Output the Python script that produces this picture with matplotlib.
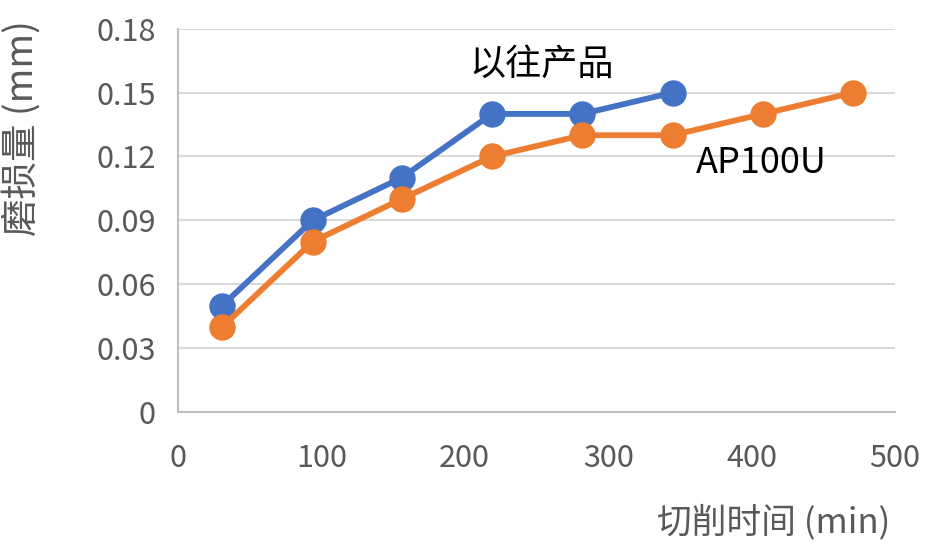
import matplotlib
matplotlib.use("Agg")
import matplotlib.pyplot as plt

plt.rcParams['font.family'] = ['Noto Sans CJK SC', 'DejaVu Sans']

time_prev = [31, 94, 156, 219, 282, 345]
wear_prev = [0.05, 0.09, 0.11, 0.14, 0.14, 0.15]
time_new = [31, 94, 156, 219, 282, 345, 408, 471]
wear_new = [0.04, 0.08, 0.10, 0.12, 0.13, 0.13, 0.14, 0.15]
xticks = [0, 100, 200, 300, 400, 500]
yticks = [0, 0.03, 0.06, 0.09, 0.12, 0.15, 0.18]
ytick_labels = ['0', '0.03', '0.06', '0.09', '0.12', '0.15', '0.18']

fig = plt.figure(figsize=(9.46, 5.53), dpi=100)
ax = fig.add_axes([0.188, 0.255, 0.758, 0.693])

ax.plot(time_prev, wear_prev, color='#4472C4', lw=4.2, marker='o', ms=18, zorder=3)
ax.plot(time_new, wear_new, color='#ED7D31', lw=4.2, marker='o', ms=18, zorder=4)

ax.set_xlim(0, 500)
ax.set_ylim(0, 0.18)
ax.set_xticks(xticks)
ax.set_yticks(yticks)
ax.set_yticklabels(ytick_labels)
ax.yaxis.grid(True, color='#D9D9D9', lw=1.5)
ax.set_axisbelow(True)
for s in ['top', 'right']:
    ax.spines[s].set_visible(False)
for s in ['left', 'bottom']:
    ax.spines[s].set_color('#BFBFBF')
    ax.spines[s].set_linewidth(1.5)
ax.tick_params(length=0, labelsize=22, colors='#595959')
ax.tick_params(axis='x', pad=22)
ax.tick_params(axis='y', pad=16)

ax.text(254, 0.163, '以往产品', fontsize=26, color='black', ha='center', va='center')
ax.text(407, 0.117, 'AP100U', fontsize=26, color='black', ha='center', va='center')

fig.text(0.023, 0.769, '磨损量 (mm)', rotation=90, fontsize=27, color='#595959', ha='center', va='center')
fig.text(0.941, 0.056, '切削时间 (min)', fontsize=25, color='#595959', ha='right', va='center')

fig.savefig('out.png', dpi=100)
